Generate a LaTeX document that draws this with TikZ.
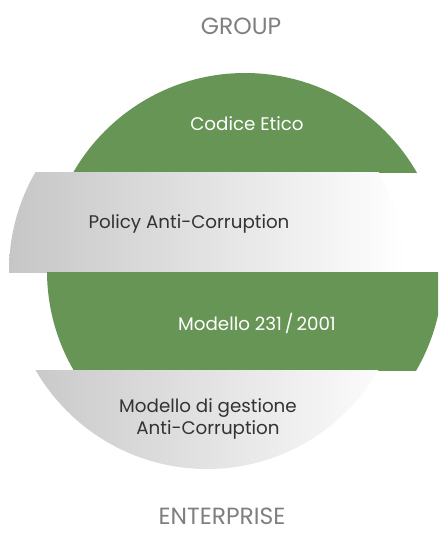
\documentclass[tikz,border=0pt]{standalone}
\usepackage{fontspec}
\setmainfont{Poppins}
\usepackage{tikz}
\usetikzlibrary{positioning}
\definecolor{bandgreen}{HTML}{679556}
\definecolor{bandgrey}{HTML}{C6C6C6}
\definecolor{inkdark}{HTML}{333333}
\definecolor{inklabel}{HTML}{7F7F7F}
\tikzset{
  bd green/.style={fill=bandgreen},
  bd grey/.style={left color=bandgrey, right color=white},
  bd text/.style={font=\fontsize{15.6}{19}\selectfont, text=inkdark, align=center, inner sep=1pt},
  bd white/.style={bd text, text=white},
  bd head/.style={font=\fontsize{20}{24}\selectfont, text=inklabel, inner sep=0pt},
}
\begin{document}
\begin{tikzpicture}[x=0.03cm, y=-0.03cm]
  \useasboundingbox (0,0) rectangle (438,533);
  % four slices of one disc, shifted left and right in turn
  \begin{scope}
    \clip (0,73) rectangle (438,172);
    \fill[bd green] (245,271) circle [radius=198];
  \end{scope}
  \begin{scope}
    \clip (0,172) rectangle (438,272);
    \shade[bd grey] (207,271) circle [radius=198];
  \end{scope}
  \begin{scope}
    \clip (0,272) rectangle (438,370);
    \fill[bd green] (245,271) circle [radius=198];
  \end{scope}
  \begin{scope}
    \clip (0,370) rectangle (438,470);
    \shade[bd grey] (207,271) circle [radius=198];
  \end{scope}
  % labels
  \node[bd head] (grp) at (241,26) {GROUP};
  \node[bd white] (ce) at (247,124) {Codice Etico};
  \node[bd text] (pac) at (189,224) {Policy Anti-Corruption};
  \node[bd white] (m231) at (257,323) {Modello 231\kern2.5pt/\kern2.5pt2001};
  \node[bd text] (mgac) at (208,419) {Modello di gestione\\Anti-Corruption};
  \node[bd head] (ent) at (222,516) {ENTERPRISE};
\end{tikzpicture}
\end{document}
